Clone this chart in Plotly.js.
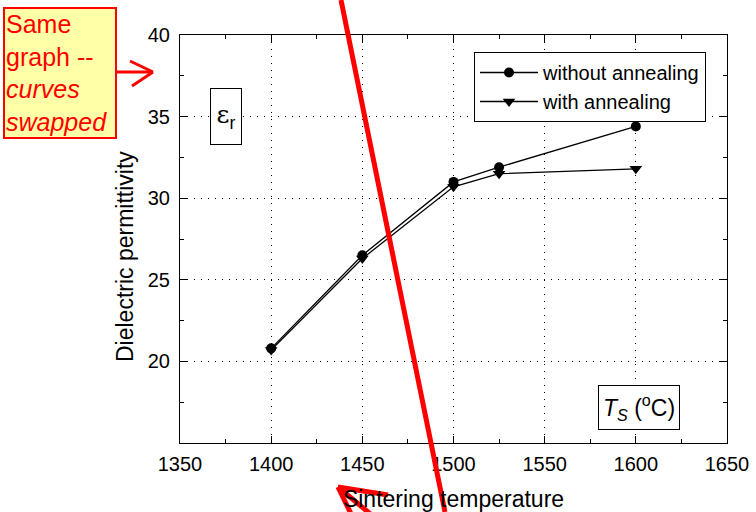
<!DOCTYPE html>
<html>
<head>
<meta charset="utf-8">
<script src="https://cdn.plot.ly/plotly-3.0.1.min.js"></script>
<style>html,body{margin:0;padding:0;background:#fff}#chart{width:756px;height:512px}</style>
</head>
<body>
<div id="chart"></div>
<script>
// ---- data ----
const temperatures = [1400, 1450, 1500, 1525, 1600];
const withoutAnnealing = [20.8, 26.5, 31.0, 31.9, 34.4];
const withAnnealing = [20.7, 26.3, 30.7, 31.5, 31.8];
const seriesNames = ["without annealing", "with annealing"];
const xTickVals = [1350, 1400, 1450, 1500, 1550, 1600, 1650];
const xTickText = ["1350", "1400", "1450", "1500", "1550", "1600", "1650"];
const yTickVals = [20, 25, 30, 35, 40];
const yTickText = ["20", "25", "30", "35", "40"];

// ---- layout helpers (pixel -> paper) ----
const W = 756, H = 512, ML = 180, MR = 29, MT = 35, MB = 69;
const PW = W - ML - MR, PH = H - MT - MB;
const px = x => (x - ML) / PW;
const py = y => (H - MB - y) / PH;
const FONT = "Liberation Sans, Arial, sans-serif";

function seg(x0, y0, x1, y1, w) {
  return {type: "line", xref: "paper", yref: "paper",
    x0: px(x0), y0: py(y0), x1: px(x1), y1: py(y1),
    line: {color: "#ff0000", width: w}, layer: "above"};
}

const traces = [
  {x: temperatures, y: withoutAnnealing, name: seriesNames[0], type: "scatter", mode: "lines+markers",
   line: {color: "#000", width: 1.3}, marker: {symbol: "circle", size: 10, color: "#000"}},
  {x: temperatures, y: withAnnealing, name: seriesNames[1], type: "scatter", mode: "lines+markers",
   line: {color: "#000", width: 1.3}, marker: {symbol: "triangle-down", size: 11, color: "#000"}}
];

const axisCommon = {
  showline: true, linecolor: "#000", linewidth: 1, mirror: "ticks",
  ticks: "inside", ticklen: 7, tickcolor: "#000", tickwidth: 1,
  showgrid: true, gridcolor: "#000", gridwidth: 1, griddash: "1px,6px",
  zeroline: false, tickfont: {family: FONT, size: 20, color: "#000"},
  tickmode: "array"
};

const layout = {
  width: W, height: H,
  margin: {l: ML, r: MR, t: MT, b: MB},
  paper_bgcolor: "#fff", plot_bgcolor: "#fff",
  font: {family: FONT, color: "#000"},
  showlegend: true,
  legend: {x: px(474), y: py(52), xanchor: "left", yanchor: "top",
    bordercolor: "#000", borderwidth: 1, bgcolor: "#fff",
    font: {family: FONT, size: 20, color: "#000"}, itemwidth: 58, tracegroupgap: 0},
  xaxis: Object.assign({}, axisCommon, {
    range: [1350, 1650], tickvals: xTickVals, ticktext: xTickText, ticklabelstandoff: 3,
    minor: {tickmode: "linear", tick0: 1350, dtick: 25, ticks: "inside", ticklen: 4, tickcolor: "#000", showgrid: false},
    title: {text: "Sintering temperature", font: {family: FONT, size: 23, color: "#000"}, standoff: 19}
  }),
  yaxis: Object.assign({}, axisCommon, {
    range: [15, 40], tickvals: yTickVals, ticktext: yTickText, ticklabelstandoff: 5,
    minor: {tickmode: "linear", tick0: 15, dtick: 2.5, ticks: "inside", ticklen: 4, tickcolor: "#000", showgrid: false}
  }),
  annotations: [
    {xref: "paper", yref: "paper", x: px(125), y: py(257), xanchor: "center", yanchor: "middle",
     text: "Dielectric permittivity", textangle: -90, showarrow: false,
     font: {family: FONT, size: 23, color: "#000"}},
    {xref: "paper", yref: "paper", x: px(60), y: py(73), xanchor: "center", yanchor: "middle",
     text: "Same<br>graph --<br><i>curves</i><br><i>swapped</i>", align: "left", valign: "middle",
     showarrow: false, width: 108, height: 126, bgcolor: "#ffffa8", bordercolor: "#ff0000",
     borderwidth: 2, borderpad: 1, font: {family: FONT, size: 25, color: "#ff0000"}},
    {xref: "paper", yref: "paper", x: px(226), y: py(117), xanchor: "center", yanchor: "middle",
     text: "ε<sub><span style=\"font-family:Liberation Sans\">r</span></sub>", showarrow: false, width: 28, height: 53, bgcolor: "#fff",
     bordercolor: "#000", borderwidth: 1, borderpad: 1, font: {family: "DejaVu Serif, serif", size: 25, color: "#000"}},
    {xref: "paper", yref: "paper", x: px(639), y: py(407), xanchor: "center", yanchor: "middle",
     text: "<i>T</i><sub><i>S</i></sub> (<sup>o</sup>C)", showarrow: false, width: 78, height: 41, bgcolor: "#fff",
     bordercolor: "#000", borderwidth: 1, borderpad: 1, font: {family: FONT, size: 23, color: "#000"}}
  ],
  shapes: [
    seg(341, 0, 445, 512, 5),
    seg(117, 72, 152, 72, 3),
    seg(130, 61, 153, 72, 3),
    seg(132, 86, 153, 72, 3),
    seg(338, 487, 388, 495, 5),
    seg(338, 487, 354, 520, 5),
    seg(338, 487, 380, 522, 5)
  ]
};

Plotly.newPlot("chart", traces, layout, {displayModeBar: false, staticPlot: true});
</script>
</body>
</html>
